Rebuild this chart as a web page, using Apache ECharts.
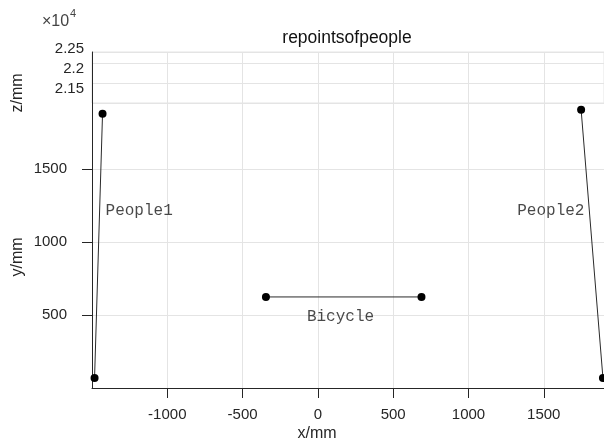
<!DOCTYPE html>
<html><head><meta charset="utf-8">
<script src="https://cdn.jsdelivr.net/npm/echarts@6/dist/echarts.min.js"></script>
<style>html,body{margin:0;padding:0;background:#fff}#c{width:604px;height:444px}</style>
</head><body><div id="c"></div>
<script>
const chartTitle = 'repointsofpeople';
const xTicks = [-1000, -500, 0, 500, 1000, 1500];
const yTicks = [500, 1000, 1500];
const zTicks = [2.15, 2.2, 2.25];
const people1 = [[-1430, 1877], [-1483, 68]];
const people2 = [[1748, 1904], [1893, 68]];
const bicycle = [[-345, 623], [688, 623]];
const textNames = ['People1', 'People2', 'Bicycle'];
const textPos = [[-1410, 1212], [1324, 1212], [-73, 486]];

const GRID = '#e4e4e4', AX = '#262626', TXT = '#262626';
const numFont = 'Liberation Sans';
const plain = v => String(Math.round(v));

const chart = echarts.init(document.getElementById('c'));
const lineSeries = (name, data) => ({
  name, type: 'line', xAxisIndex: 0, yAxisIndex: 0, data,
  symbol: 'circle', symbolSize: 8, clip: false,
  itemStyle: { color: '#000' }, lineStyle: { color: '#2a2a2a', width: 1 },
  animation: false
});
const hiddenX = (gi, pos) => ({ gridIndex: gi, type: 'value', min: -1500, max: 1900, interval: 500, position: pos,
  axisLine: { show: false, onZero: false }, axisTick: { show: false }, axisLabel: { show: false },
  splitLine: { show: gi === 1, lineStyle: { color: GRID } } });
chart.setOption({
  animation: false,
  grid: [
    { left: 92, right: 0, top: 103, bottom: 56, show: false },
    { left: 92, right: 0, top: 52, height: 51, show: true, borderColor: GRID, borderWidth: 1 },
    { left: 92, right: 0, top: 38, height: 51, show: false }
  ],
  xAxis: [
    { gridIndex: 0, type: 'value', min: -1500, max: 1900, interval: 500,
      axisLine: { show: true, onZero: false, lineStyle: { color: AX } },
      axisTick: { show: true, inside: false, length: 10, customValues: xTicks, lineStyle: { color: AX } },
      axisLabel: { customValues: xTicks, margin: 19, color: TXT, fontSize: 15, fontFamily: numFont, formatter: plain },
      splitLine: { show: true, lineStyle: { color: GRID } } },
    hiddenX(1, 'top'),
    hiddenX(2, 'top')
  ],
  yAxis: [
    { gridIndex: 0, type: 'value', min: 0, max: 1950, interval: 500,
      axisLine: { show: true, onZero: false, lineStyle: { color: AX } },
      axisTick: { show: true, inside: false, length: 10, customValues: yTicks, lineStyle: { color: AX } },
      axisLabel: { customValues: yTicks, margin: 25, color: TXT, fontSize: 15, fontFamily: numFont, formatter: plain },
      splitLine: { show: true, lineStyle: { color: GRID } } },
    { gridIndex: 1, type: 'value', min: 2.15, max: 2.2775, interval: 0.05,
      axisLine: { show: true, onZero: false, lineStyle: { color: AX } },
      axisTick: { show: false }, axisLabel: { show: false },
      splitLine: { show: true, lineStyle: { color: GRID } } },
    { gridIndex: 2, type: 'value', min: 2.15, max: 2.2775, interval: 0.05,
      axisLine: { show: false, onZero: false }, axisTick: { show: false }, splitLine: { show: false },
      axisLabel: { customValues: zTicks, margin: 8, color: TXT, fontSize: 15, fontFamily: numFont,
        formatter: v => String(+v.toFixed(2)) } }
  ],
  series: [
    lineSeries('People1', people1),
    lineSeries('People2', people2),
    lineSeries('Bicycle', bicycle),
    { type: 'scatter', xAxisIndex: 0, yAxisIndex: 0, symbolSize: 0, silent: true,
      data: textNames.map((n, i) => ({ name: n, value: textPos[i] })),
      label: { show: true, position: [0, 0], align: 'left', verticalAlign: 'middle',
        formatter: '{b}', color: '#1a1a1a', fontSize: 16, fontFamily: 'Liberation Mono' } }
  ],
  graphic: [
    { type: 'text', x: 347, y: 38, style: { text: chartTitle, font: '17.5px "Liberation Sans"', fill: '#111', align: 'center', verticalAlign: 'middle' } },
    { type: 'text', x: 317, y: 434, style: { text: 'x/mm', font: '16px "Liberation Sans"', fill: TXT, align: 'center', verticalAlign: 'middle' } },
    { type: 'text', x: 18, y: 257, rotation: Math.PI / 2, style: { text: 'y/mm', font: '16px "Liberation Sans"', fill: TXT, align: 'center', verticalAlign: 'middle' } },
    { type: 'text', x: 18, y: 93, rotation: Math.PI / 2, style: { text: 'z/mm', font: '16px "Liberation Sans"', fill: TXT, align: 'center', verticalAlign: 'middle' } },
    { type: 'text', x: 42, y: 22, style: { text: '×10', font: '16px "Liberation Sans"', fill: '#444', verticalAlign: 'middle' } },
    { type: 'text', x: 70, y: 14, style: { text: '4', font: '11px "Liberation Sans"', fill: '#444', verticalAlign: 'middle' } }
  ]
});
</script></body></html>
